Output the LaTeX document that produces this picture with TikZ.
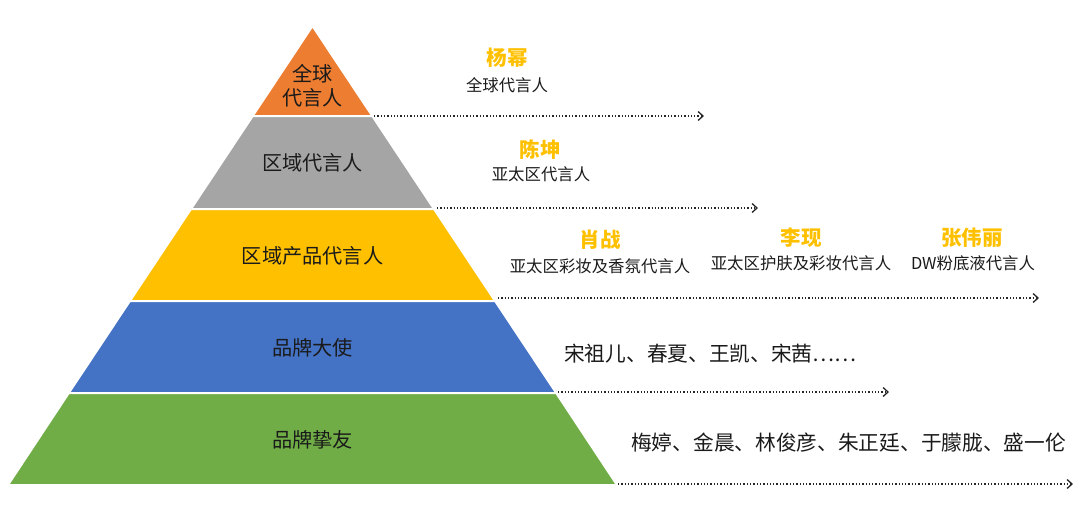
\documentclass[tikz,border=0pt]{standalone}
\usepackage{fontspec}
\setmainfont{Noto Sans CJK SC}
\usetikzlibrary{arrows.meta}
\definecolor{cOrange}{HTML}{ED7D31}
\definecolor{cGray}{HTML}{A5A5A5}
\definecolor{cYellow}{HTML}{FFC000}
\definecolor{cBlue}{HTML}{4472C4}
\definecolor{cGreen}{HTML}{70AD47}
\definecolor{cText}{HTML}{1A1A1A}
\tikzset{
  layer/.style={draw=white, line width=2pt, line join=miter},
  lvl/.style={font=\fontsize{20.2}{24}\selectfont, text=cText, align=center, inner sep=0pt},
  star/.style={font=\fontsize{20.5}{24}\selectfont\bfseries, text=cYellow, inner sep=0pt},
  role/.style={font=\fontsize{16.4}{20}\selectfont, text=cText, inner sep=0pt},
  names/.style={font=\fontsize{20.7}{24}\selectfont, text=cText, inner sep=0pt, anchor=west},
  conn/.style={line width=1.3pt, dotted, draw=black!85, -{Straight Barb[length=5pt,width=9pt,line width=1.3pt]}}
}
\begin{document}
\begin{tikzpicture}[x=1pt,y=-1pt]
\useasboundingbox (0,0) rectangle (1080,523);
% pyramid layers (apex 312.5,26; slope 0.664)
\fill[cOrange,layer] (312.5,26) -- (372.3,116) -- (252.7,116) -- cycle;
\fill[cGray,layer] (252.7,116) -- (372.3,116) -- (434,209) -- (191,209) -- cycle;
\fill[cYellow,layer] (191,209) -- (434,209) -- (495.1,301) -- (129.9,301) -- cycle;
\fill[cBlue,layer] (129.9,301) -- (495.1,301) -- (556.2,393) -- (68.8,393) -- cycle;
\fill[cGreen,layer] (68.8,393) -- (556.2,393) -- (617,485) -- (8,485) -- cycle;
% layer labels
\node[lvl] (l1) at (312.5,86) {全球\\代言人};
\node[lvl] (l2) at (312.5,163) {区域代言人};
\node[lvl] (l3) at (312.5,256) {区域产品代言人};
\node[lvl] (l4) at (312.5,348) {品牌大使};
\node[lvl] (l5) at (312.5,440) {品牌挚友};
% connector coordinates
\coordinate (s1) at (374,116); \coordinate (e1) at (704,116);
\coordinate (s2) at (437,208); \coordinate (e2) at (758,208);
\coordinate (s3) at (498,298); \coordinate (e3) at (1039,298);
\coordinate (s4) at (558,392); \coordinate (e4) at (889,392);
\coordinate (s5) at (618,484); \coordinate (e5) at (1073,484);
\draw[conn] (s1) -- (e1);
\draw[conn] (s2) -- (e2);
\draw[conn] (s3) -- (e3);
\draw[conn] (s4) -- (e4);
\draw[conn] (s5) -- (e5);
% right-side texts
\node[star] (n1) at (507,58) {杨幂};
\node[role] (r1) at (507,85) {全球代言人};
\node[star] (n2) at (540,150) {陈坤};
\node[role] (r2) at (541,174) {亚太区代言人};
\node[star] (n3) at (600,240) {肖战};
\node[role] (r3) at (600,266) {亚太区彩妆及香氛代言人};
\node[star] (n4) at (801,238) {李现};
\node[role] (r4) at (801,263) {亚太区护肤及彩妆代言人};
\node[star] (n5) at (972,238) {张伟丽};
\node[role] (r5) at (973,263) {DW粉底液代言人};
\node[names] (m4) at (564,354) {宋祖儿、春夏、王凯、宋茜……};
\node[names] (m5) at (631,443) {梅婷、金晨、林俊彦、朱正廷、于朦胧、盛一伦};
\end{tikzpicture}
\end{document}
